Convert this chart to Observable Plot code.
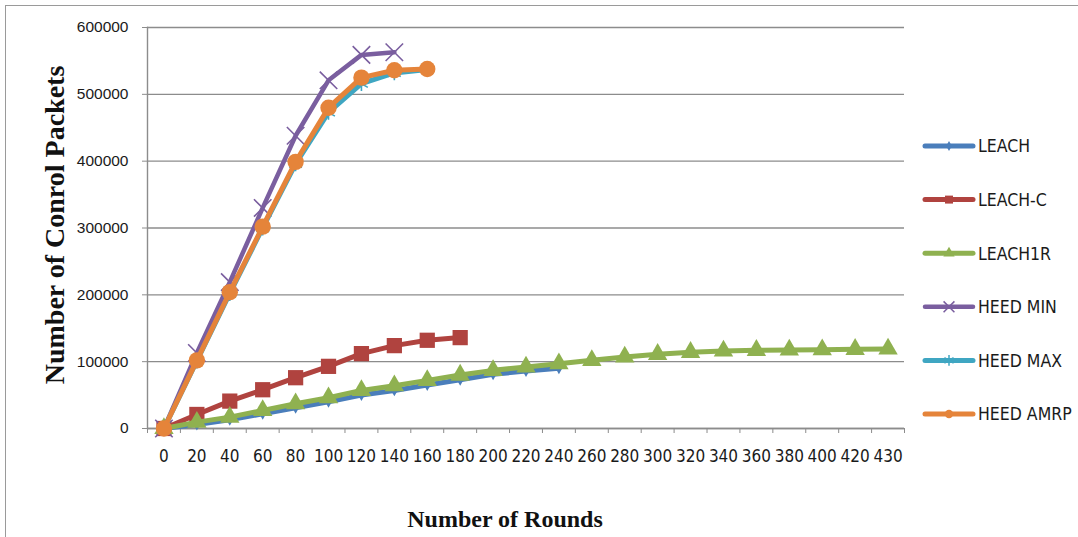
<!DOCTYPE html>
<html>
<head>
<meta charset="utf-8">
<script src="https://cdn.jsdelivr.net/npm/d3@7"></script>
<script src="https://cdn.jsdelivr.net/npm/@observablehq/plot@0.6"></script>
<style>
  html, body { margin: 0; padding: 0; background: #fff; overflow: hidden; }
  #wrap { position: relative; width: 1078px; height: 537px; }
  #border { position: absolute; left: 5px; top: 5px; width: 1200px; height: 700px;
            border-left: 1.5px solid #9a9a9a; border-top: 1.5px solid #9a9a9a; }
  #chart { position: absolute; left: 0; top: 0; }
</style>
</head>
<body>
<div id="wrap"><div id="border"></div><div id="chart"></div></div>
<script>
// ---- data ----
const rounds = ["0","20","40","60","80","100","120","140","160","180","200","220","240","260","280","300","320","340","360","380","400","420","430"];
const yTicks = [0, 100000, 200000, 300000, 400000, 500000, 600000];
const seriesNames = ["LEACH", "LEACH-C", "LEACH1R", "HEED MIN", "HEED MAX", "HEED AMRP"];
const leach    = [0, 6000, 13000, 22000, 31000, 40000, 50000, 57000, 65000, 73000, 81000, 86000, 90000];
const leachC   = [0, 21000, 41000, 58000, 76000, 93000, 112000, 124000, 132000, 136000];
const leach1R  = [0, 9500, 17000, 27000, 37000, 46000, 57000, 64000, 72000, 80000, 87000, 92000, 97000, 102000, 107000, 111000, 114000, 116000, 117000, 117500, 118000, 118500, 119000];
const heedMin  = [0, 113000, 219000, 330000, 438000, 521000, 559000, 563000];
const heedMax  = [0, 101000, 202000, 300000, 396000, 473000, 516000, 532000, 537000];
const heedAmrp = [0, 102000, 204000, 302000, 399000, 480000, 525000, 536000, 538000];

// ---- styles ----
const styles = {
  "LEACH":     {color: "#4a7ebb", symbol: "diamond",  r: 3.6, fill: true,  lw: 5,   lr: 3},
  "LEACH-C":   {color: "#b0433f", symbol: "square",   r: 8.6, fill: true,  lw: 5,   lr: 4.5},
  "LEACH1R":   {color: "#8fb150", symbol: "triangle", r: 7.2, fill: true,  lw: 5,   lr: 4.2},
  "HEED MIN":  {color: "#7a5e9f", symbol: "times",    r: 8,   fill: false, lw: 4.5, lr: 5},
  "HEED MAX":  {color: "#3fa6c2", symbol: "asterisk", r: 7,   fill: false, lw: 5,   lr: 5},
  "HEED AMRP": {color: "#e5843a", symbol: "circle",   r: 8.2, fill: true,  lw: 5,   lr: 4.2}
};
const valuesByName = {"LEACH": leach, "LEACH-C": leachC, "LEACH1R": leach1R, "HEED MIN": heedMin, "HEED MAX": heedMax, "HEED AMRP": heedAmrp};

const rows = [];
for (const name of seriesNames) valuesByName[name].forEach((v, i) => rows.push({series: name, round: rounds[i], value: v}));

const W = 1078, H = 537, mL = 147, mR = 174, mT = 27, mB = 109;
const step = (W - mL - mR) / rounds.length;
const gridColor = "#8c8c8c";

const seriesMarks = [];
for (const name of seriesNames) {
  const s = styles[name];
  const d = rows.filter(r => r.series === name);
  seriesMarks.push(Plot.line(d, {x: "round", y: "value", stroke: s.color, strokeWidth: s.lw, strokeLinejoin: "round", strokeLinecap: "round"}));
  seriesMarks.push(Plot.dot(d, s.fill
    ? {x: "round", y: "value", symbol: () => s.symbol, r: s.r, fill: s.color, stroke: "none"}
    : {x: "round", y: "value", symbol: () => s.symbol, r: s.r, stroke: s.color, strokeWidth: 1.6, fill: "none"}));
}

const chart = Plot.plot({
  width: W, height: H,
  marginLeft: mL, marginRight: mR, marginTop: mT, marginBottom: mB,
  x: {type: "point", domain: rounds, padding: 0.5, round: false, axis: null},
  y: {domain: [0, 600000], axis: null},
  symbol: {type: "identity"},
  style: {background: "transparent", overflow: "visible"},
  marks: [
    Plot.gridY({ticks: yTicks, stroke: gridColor, strokeOpacity: 1, strokeWidth: 1.4}),
    Plot.ruleY([0], {stroke: gridColor, strokeWidth: 1.4}),
    Plot.frame({anchor: "left", stroke: gridColor, strokeWidth: 1.4}),
    Plot.axisY({ticks: yTicks, tickSize: 5, tickPadding: 14, tickFormat: d3.format("d"),
                fontSize: 15.5, fontFamily: "Liberation Sans, Arial, sans-serif", fill: "#1a1a1a", stroke: gridColor, label: null}),
    Plot.axisX({ticks: rounds, tickSize: 0, tickPadding: 21, fontSize: 17,
                fontFamily: "Liberation Sans Narrow, Arial Narrow, DejaVu Sans Condensed, sans-serif", fill: "#1a1a1a", label: null}),
    Plot.axisX({ticks: rounds, tickSize: 5, dx: -step / 2, tickFormat: () => "", stroke: gridColor, label: null}),
    Plot.axisX({ticks: rounds.slice(-1), tickSize: 5, dx: step / 2, tickFormat: () => "", stroke: gridColor, label: null}),
    ...seriesMarks,
    Plot.text(["Number of Conrol Packets"], {frameAnchor: "left", textAnchor: "middle", lineAnchor: "middle", rotate: -90, dx: -92, dy: -3,
      fontFamily: "Liberation Serif, Times New Roman, serif", fontWeight: "bold", fontSize: 28, fill: "#111"}),
    Plot.text(["Number of Rounds"], {frameAnchor: "bottom", textAnchor: "middle", lineAnchor: "middle", dy: 91, dx: -21,
      fontFamily: "Liberation Serif, Times New Roman, serif", fontWeight: "bold", fontSize: 24, fill: "#111"})
  ]
});
document.getElementById("chart").appendChild(chart);

// ---- legend (right side) ----
const svg = d3.select(chart);
const symMap = {diamond: d3.symbolDiamond, square: d3.symbolSquare, triangle: d3.symbolTriangle,
                times: d3.symbolTimes, asterisk: d3.symbolAsterisk, circle: d3.symbolCircle};
const lg = svg.append("g").attr("class", "legend");
seriesNames.forEach((name, i) => {
  const s = styles[name];
  const y = 146 + i * 53.6;
  const g = lg.append("g").attr("transform", `translate(0,${y})`);
  g.append("line").attr("x1", 925).attr("x2", 973).attr("y1", 0).attr("y2", 0)
    .attr("stroke", s.color).attr("stroke-width", s.lw).attr("stroke-linecap", "round");
  const path = d3.symbol(symMap[s.symbol], Math.PI * s.lr * s.lr)();
  const p = g.append("path").attr("d", path).attr("transform", "translate(949,0)");
  if (s.fill) p.attr("fill", s.color); else p.attr("fill", "none").attr("stroke", s.color).attr("stroke-width", 1.5);
  g.append("text").attr("x", 978).attr("y", 0).attr("dy", "0.36em").attr("text-anchor", "start")
    .attr("font-family", "Liberation Sans Narrow, Arial Narrow, DejaVu Sans Condensed, sans-serif")
    .attr("font-size", 17.5).attr("fill", "#1a1a1a").text(name);
});
</script>
</body>
</html>
